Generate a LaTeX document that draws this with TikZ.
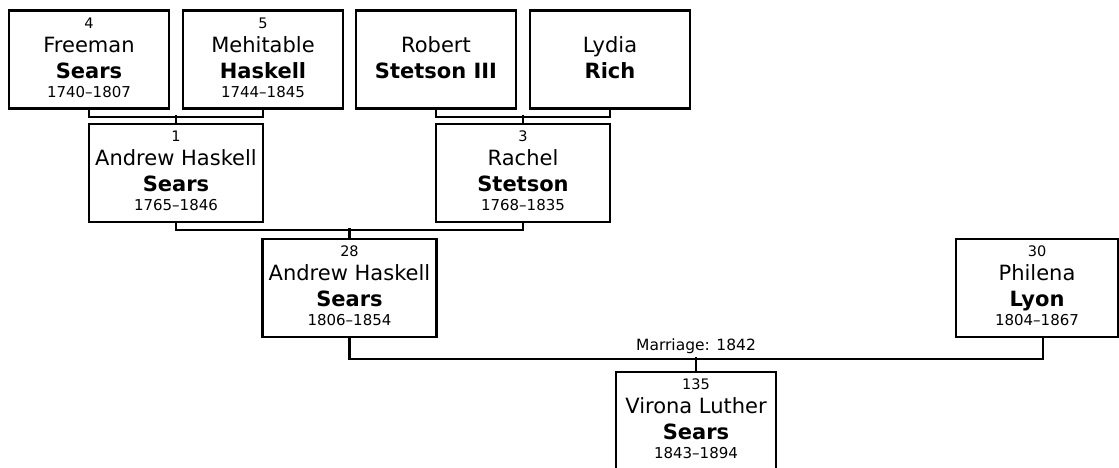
\documentclass[tikz,border=0pt]{standalone}
\usepackage{fontspec}
\setmainfont{DejaVu Sans}
\newcommand{\pnum}[1]{{\fontsize{14.5}{24}\selectfont\vphantom{0}#1}}
\newcommand{\pyrs}[1]{{\fontsize{15}{24}\selectfont\rule[-4pt]{0pt}{4pt}\vphantom{0}#1}}

\begin{document}
\begin{tikzpicture}[x=1pt, y=-1pt, line width=2.2pt,
        person/.style={draw, rectangle, align=center, inner sep=0pt,
            minimum width=160pt, minimum height=98pt,
            font=\fontsize{21}{24}\selectfont},
        wide/.style={minimum width=174pt}]
    \useasboundingbox (0,0) rectangle (1119,467);
    \node[person] (p4) at (89,59.5) {\pnum{4}\\Freeman\\[2pt]\textbf{Sears}\\[-5pt]\pyrs{1740--1807}};
    \node[person] (p5) at (263,59.5) {\pnum{5}\\Mehitable\\[2pt]\textbf{Haskell}\\[-5pt]\pyrs{1744--1845}};
    \node[person] (p6) at (436,59.5) {\pnum{}\\Robert\\[2pt]\textbf{Stetson III}\\[-5pt]\pyrs{}};
    \node[person] (p7) at (610,59.5) {\pnum{}\\Lydia\\[2pt]\textbf{Rich}\\[-5pt]\pyrs{}};
    \node[person, wide] (p1) at (176,173) {\pnum{1}\\Andrew Haskell\\[2pt]\textbf{Sears}\\[-5pt]\pyrs{1765--1846}};
    \node[person, wide] (p3) at (523,173) {\pnum{3}\\Rachel\\[2pt]\textbf{Stetson}\\[-5pt]\pyrs{1768--1835}};
    \node[person, wide] (p28) at (349.5,288) {\pnum{28}\\Andrew Haskell\\[2pt]\textbf{Sears}\\[-5pt]\pyrs{1806--1854}};
    \node[person, minimum width=162pt] (p30) at (1037,288) {\pnum{30}\\Philena\\[2pt]\textbf{Lyon}\\[-5pt]\pyrs{1804--1867}};
    \node[person] (p135) at (696,421) {\pnum{135}\\Virona Luther\\[2pt]\textbf{Sears}\\[-5pt]\pyrs{1843--1894}};
    \draw (p4.south) -- ++(0,7) -| (p5.south);
    \draw (p1.north) -- ++(0,-8);
    \draw (p6.south) -- ++(0,7) -| (p7.south);
    \draw (p3.north) -- ++(0,-8);
    \draw (p1.south) -- ++(0,7) -| (p3.south);
    \draw (p28.north) -- ++(0,-10);
    \draw (p28.south) -- ++(0,21) -| ([xshift=6pt]p30.south);
    \draw (p135.north) -- ++(0,-14)
        node[anchor=south, inner sep=2pt, font=\fontsize{15.5}{17}\selectfont] (wed) {Marriage: 1842};
\end{tikzpicture}
\end{document}
